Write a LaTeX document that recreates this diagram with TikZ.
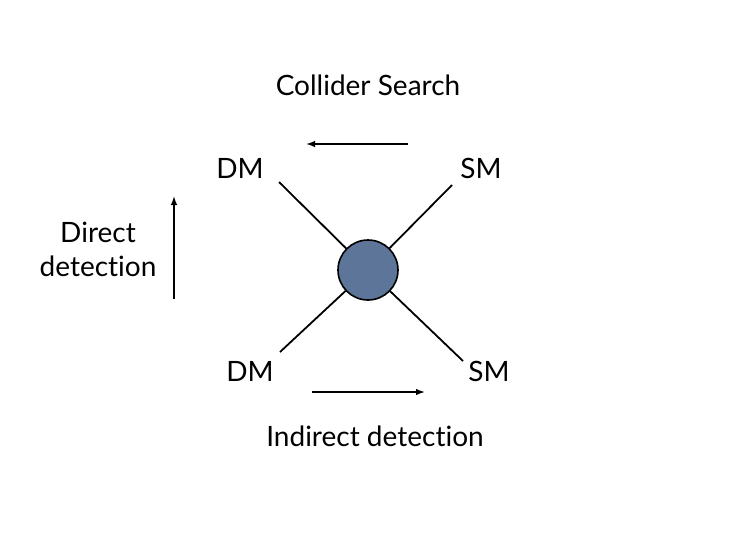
\documentclass[tikz,border=0pt]{standalone}
\usepackage{fontspec}
\setmainfont{Lato}[Ligatures={NoCommon,NoRequired,NoContextual}]
\usepackage{xcolor}
\usetikzlibrary{arrows.meta,positioning}
\definecolor{blobfill}{RGB}{92,117,152}

\begin{document}
\begin{tikzpicture}[x=1pt,y=-1pt,>=Latex,
 lbl/.style={font=\fontsize{28}{34}\selectfont,inner sep=0pt,align=center},
 leg/.style={line width=1.8pt,draw=black},
 arrow/.style={-{Latex[length=9pt,width=6.5pt]},line width=1.4pt}]
\useasboundingbox (0,0) rectangle (736,552);
\node[circle,draw=black,line width=1.6pt,fill=blobfill,minimum size=60pt,inner sep=0pt] (blob) at (368,270) {};
% external legs
\coordinate (dmtopend) at (279,182);
\coordinate (smtopend) at (452,185);
\coordinate (dmbotend) at (280,352);
\coordinate (smbotend) at (463,361);
\draw[leg] (dmtopend) -- (blob);
\draw[leg] (smtopend) -- (blob);
\draw[leg] (dmbotend) -- (blob);
\draw[leg] (smbotend) -- (blob);
\node[lbl] (dmtop) at (240,168) {DM};
\node[lbl] (smtop) at (481,168) {SM};
\node[lbl] (dmbot) at (250,371) {DM};
\node[lbl] (smbot) at (489,371) {SM};
% processes
\node[lbl] (collider) at (368,85) {Collider Search};
\node[lbl] (indirect) at (375,436) {Indirect detection};
\node[lbl] (direct) at (98,249) {Direct\\detection};
\coordinate (colfrom) at (408,144);
\coordinate (colto) at (306,144);
\coordinate (indfrom) at (312,392);
\coordinate (indto) at (425,392);
\coordinate (dirfrom) at (174,299);
\coordinate (dirto) at (174,196);
\draw[arrow] (colfrom) -- (colto);
\draw[arrow] (indfrom) -- (indto);
\draw[arrow] (dirfrom) -- (dirto);
\end{tikzpicture}
\end{document}
